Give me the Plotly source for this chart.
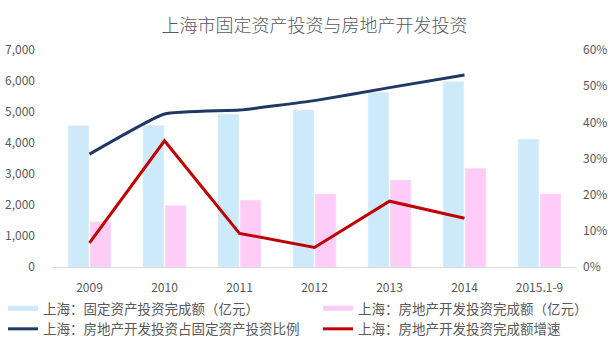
import plotly.graph_objects as go

categories = ["2009", "2010", "2011", "2012", "2013", "2014", "2015.1-9"]
fixed_invest = [4560, 4565, 4925, 5065, 5635, 5977, 4119]
realestate_invest = [1460, 1980, 2160, 2355, 2806, 3184, 2355]
line_categories = ["2009", "2010", "2011", "2012", "2013", "2014"]
ratio = [0.312, 0.423, 0.434, 0.460, 0.496, 0.531]
growth = [0.067, 0.349, 0.093, 0.054, 0.182, 0.135]

names = ["上海：固定资产投资完成额（亿元）", "上海：房地产开发投资完成额（亿元）",
         "上海：房地产开发投资占固定资产投资比例", "上海：房地产开发投资完成额增速"]

BLUE = "#CDEAFA"
PINK = "#FFCCF8"
NAVY = "#1F3864"
RED = "#C00000"
TXT = "#595959"
FONT = "Noto Sans CJK SC"

fig = go.Figure()
fig.add_trace(go.Bar(x=categories, y=fixed_invest, marker_color=BLUE, showlegend=False, name=names[0]))
fig.add_trace(go.Bar(x=categories, y=realestate_invest, marker_color=PINK, showlegend=False, name=names[1]))
# legend proxies for bars (wide swatches)
fig.add_trace(go.Scatter(x=[None], y=[None], mode="lines", line=dict(color=BLUE, width=5),
                         name=names[0], legend="legend"))
fig.add_trace(go.Scatter(x=line_categories, y=ratio, mode="lines", yaxis="y2",
                         line=dict(color=NAVY, width=3, shape="spline", smoothing=0.4),
                         name=names[2], legend="legend"))
fig.add_trace(go.Scatter(x=[None], y=[None], mode="lines", line=dict(color=PINK, width=5),
                         name=names[1], legend="legend2"))
fig.add_trace(go.Scatter(x=line_categories, y=growth, mode="lines", yaxis="y2",
                         line=dict(color=RED, width=3), name=names[3], legend="legend2"))

legend_common = dict(orientation="v", xanchor="left", yanchor="top",
                     font=dict(size=13.5, color=TXT, family=FONT),
                     bgcolor="rgba(0,0,0,0)", traceorder="normal", tracegroupgap=0)

fig.update_layout(
    width=613, height=348,
    margin=dict(l=52, r=36, t=50, b=81, autoexpand=False),
    paper_bgcolor="white", plot_bgcolor="white",
    font=dict(family=FONT, size=12, color=TXT),
    title=dict(text="上海市固定资产投资与房地产开发投资", x=0.5, xref="paper", xanchor="center",
               y=1 - 26 / 348, yanchor="middle",
               font=dict(size=18, color=TXT, family=FONT, weight=300)),
    barmode="group", bargap=0.41, bargroupgap=0.06,
    xaxis=dict(type="category", categoryorder="array", categoryarray=categories,
               showline=True, linecolor="#D9D9D9", linewidth=1, showgrid=False, ticks="",
               ticklabelstandoff=10, tickfont=dict(size=12, color=TXT)),
    yaxis=dict(range=[0, 7000], dtick=1000, tickformat=",", showgrid=False, zeroline=False,
               ticks="", ticklabelstandoff=16, tickfont=dict(size=12, color=TXT)),
    yaxis2=dict(range=[0, 0.6], dtick=0.1, tickformat=".0%", overlaying="y", side="right",
                showgrid=False, zeroline=False, ticks="", ticklabelstandoff=5,
                tickfont=dict(size=12, color=TXT)),
    legend=dict(x=(3 - 52) / 525, y=(267 - 293) / 217, **legend_common),
    legend2=dict(x=(318 - 52) / 525, y=(267 - 293) / 217, **legend_common),
)

fig.write_html("out.html")
